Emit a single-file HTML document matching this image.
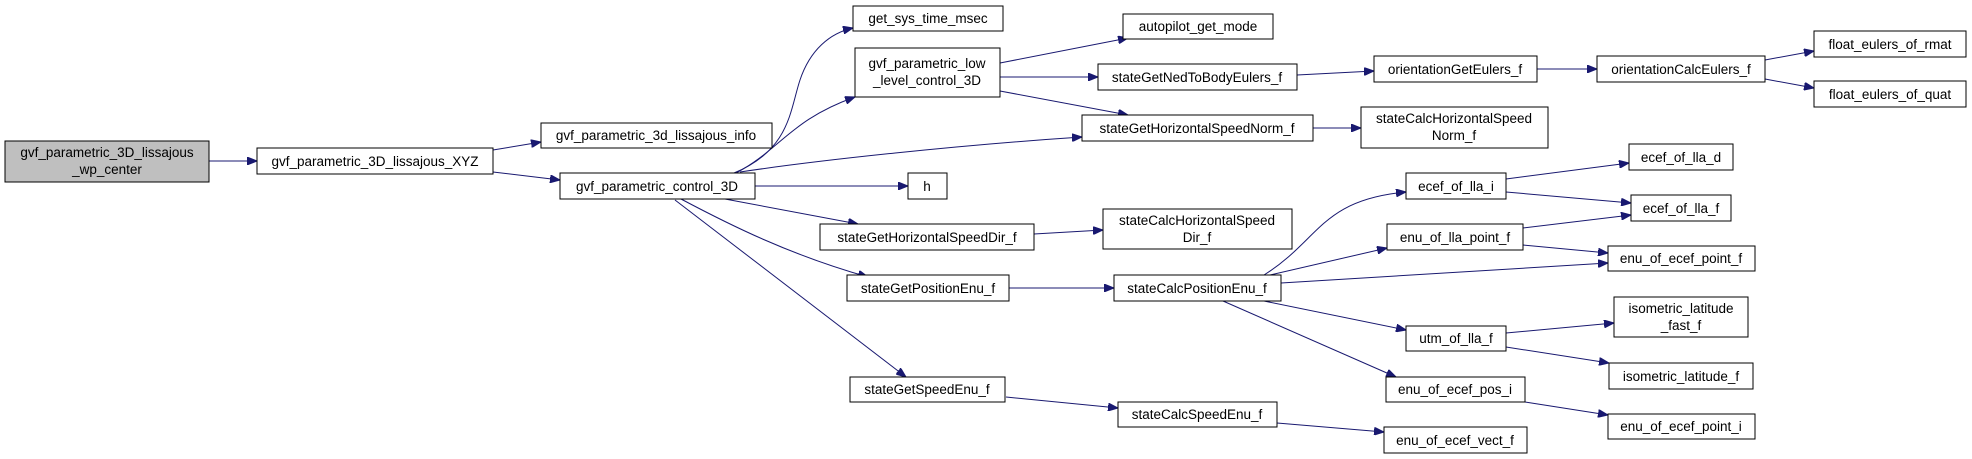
<!DOCTYPE html>
<html><head><meta charset="utf-8"><style>
html,body{margin:0;padding:0;background:#fff;}
svg{display:block}
text{font-family:"Liberation Sans",sans-serif;font-size:13.5px;fill:#000;text-anchor:middle}
rect{fill:#fff;stroke:#000;stroke-width:1}
path{fill:none;stroke:#191970;stroke-width:1}
</style></head><body>
<svg width="1972" height="459" viewBox="0 0 1972 459" xmlns="http://www.w3.org/2000/svg">
<defs><marker id="a" markerWidth="10" markerHeight="8" refX="10" refY="4" orient="auto" markerUnits="userSpaceOnUse"><path d="M0,0 L10,4 L0,8 Z" style="fill:#191970;stroke:#191970"/></marker></defs>
<g marker-end="url(#a)">
<path d="M209,161 L257,161"/>
<path d="M493,150 L541,142"/>
<path d="M493,172 L560,180"/>
<path d="M734,173 C790,150 790,110 800,80 C810,50 830,33 853,28"/>
<path d="M736,173 C780,150 790,120 855,97"/>
<path d="M740,172 C820,160 960,145 1082,137"/>
<path d="M755,186 L908,186"/>
<path d="M725,199 L858,224"/>
<path d="M681,199 C730,225 790,255 868,277"/>
<path d="M675,200 L906,377"/>
<path d="M1000,63 L1128,38"/>
<path d="M1000,77 L1098,77"/>
<path d="M1000,91 L1128,115"/>
<path d="M1297,75 L1374,71"/>
<path d="M1537,69 L1597,69"/>
<path d="M1765,60 L1814,51"/>
<path d="M1765,79 L1814,88"/>
<path d="M1313,128 L1361,128"/>
<path d="M1034,234 L1103,230"/>
<path d="M1009,288 L1114,288"/>
<path d="M1006,397 L1118,408"/>
<path d="M1277,423 L1384,432"/>
<path d="M1264,275 C1320,240 1320,200 1406,192"/>
<path d="M1270,275 L1387,248"/>
<path d="M1281,283 L1608,263"/>
<path d="M1264,301 L1406,330"/>
<path d="M1223,301 L1396,377"/>
<path d="M1506,179 L1629,163"/>
<path d="M1506,192 L1631,203"/>
<path d="M1523,228 L1631,215"/>
<path d="M1523,245 L1608,253"/>
<path d="M1506,333 L1614,323"/>
<path d="M1506,347 L1609,363"/>
<path d="M1525,402 L1608,415"/>
</g>
<rect x="5" y="141" width="204" height="41" style="fill:#bfbfbf"/>
<text x="107" y="157">gvf_parametric_3D_lissajous</text><text x="107" y="174">_wp_center</text>
<rect x="257" y="148" width="236" height="26"/><text x="375" y="166">gvf_parametric_3D_lissajous_XYZ</text>
<rect x="541" y="123" width="231" height="25"/><text x="656" y="140">gvf_parametric_3d_lissajous_info</text>
<rect x="560" y="173" width="195" height="26"/><text x="657" y="191">gvf_parametric_control_3D</text>
<rect x="853" y="6" width="150" height="25"/><text x="928" y="23">get_sys_time_msec</text>
<rect x="855" y="48" width="145" height="49"/><text x="927" y="68">gvf_parametric_low</text><text x="927" y="85">_level_control_3D</text>
<rect x="1123" y="14" width="150" height="25"/><text x="1198" y="31">autopilot_get_mode</text>
<rect x="1098" y="64" width="199" height="26"/><text x="1197" y="82">stateGetNedToBodyEulers_f</text>
<rect x="1374" y="56" width="163" height="26"/><text x="1455" y="74">orientationGetEulers_f</text>
<rect x="1597" y="56" width="168" height="26"/><text x="1681" y="74">orientationCalcEulers_f</text>
<rect x="1814" y="31" width="152" height="26"/><text x="1890" y="49">float_eulers_of_rmat</text>
<rect x="1814" y="81" width="152" height="26"/><text x="1890" y="99">float_eulers_of_quat</text>
<rect x="1082" y="115" width="231" height="26"/><text x="1197" y="133">stateGetHorizontalSpeedNorm_f</text>
<rect x="1361" y="107" width="187" height="41"/><text x="1454" y="123">stateCalcHorizontalSpeed</text><text x="1454" y="140">Norm_f</text>
<rect x="908" y="173" width="39" height="26"/><text x="927" y="191">h</text>
<rect x="820" y="224" width="214" height="26"/><text x="927" y="242">stateGetHorizontalSpeedDir_f</text>
<rect x="1103" y="209" width="189" height="40"/><text x="1197" y="225">stateCalcHorizontalSpeed</text><text x="1197" y="242">Dir_f</text>
<rect x="847" y="275" width="162" height="26"/><text x="928" y="293">stateGetPositionEnu_f</text>
<rect x="1114" y="275" width="167" height="26"/><text x="1197" y="293">stateCalcPositionEnu_f</text>
<rect x="850" y="377" width="155" height="25"/><text x="927" y="394">stateGetSpeedEnu_f</text>
<rect x="1118" y="402" width="159" height="25"/><text x="1197" y="419">stateCalcSpeedEnu_f</text>
<rect x="1406" y="173" width="100" height="26"/><text x="1456" y="191">ecef_of_lla_i</text>
<rect x="1387" y="224" width="136" height="26"/><text x="1455" y="242">enu_of_lla_point_f</text>
<rect x="1406" y="326" width="100" height="25"/><text x="1456" y="343">utm_of_lla_f</text>
<rect x="1386" y="377" width="139" height="25"/><text x="1455" y="394">enu_of_ecef_pos_i</text>
<rect x="1384" y="427" width="143" height="26"/><text x="1455" y="445">enu_of_ecef_vect_f</text>
<rect x="1629" y="144" width="104" height="26"/><text x="1681" y="162">ecef_of_lla_d</text>
<rect x="1631" y="195" width="100" height="26"/><text x="1681" y="213">ecef_of_lla_f</text>
<rect x="1608" y="246" width="147" height="25"/><text x="1681" y="263">enu_of_ecef_point_f</text>
<rect x="1614" y="297" width="134" height="40"/><text x="1681" y="313">isometric_latitude</text><text x="1681" y="330">_fast_f</text>
<rect x="1609" y="363" width="144" height="26"/><text x="1681" y="381">isometric_latitude_f</text>
<rect x="1608" y="414" width="147" height="25"/><text x="1681" y="431">enu_of_ecef_point_i</text>
</svg>
</body></html>
